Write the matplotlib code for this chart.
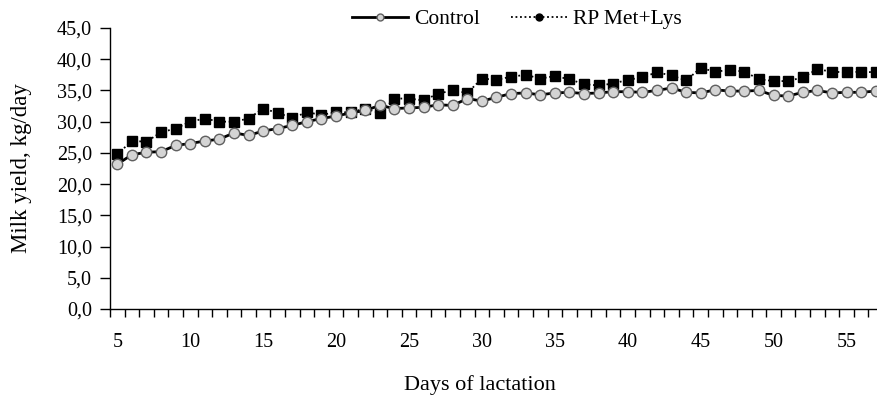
import matplotlib
matplotlib.use("Agg")
import matplotlib.pyplot as plt
from matplotlib.lines import Line2D
from matplotlib.ticker import FuncFormatter, MultipleLocator, FixedLocator

days = list(range(5, 58))
control = [23.2, 24.7, 25.1, 25.2, 26.2, 26.5, 26.9, 27.2, 28.2, 27.8,
           28.5, 28.9, 29.4, 30.0, 30.5, 30.9, 31.4, 31.8, 32.6, 32.1,
           32.2, 32.3, 32.7, 32.6, 33.7, 33.3, 33.9, 34.5, 34.6, 34.3,
           34.6, 34.7, 34.5, 34.6, 34.8, 34.8, 34.7, 35.0, 35.4, 34.7,
           34.6, 35.1, 34.9, 34.9, 35.0, 34.2, 34.1, 34.7, 35.0, 34.6,
           34.7, 34.7, 34.9]
rp_met_lys = [24.8, 26.9, 26.8, 28.3, 28.9, 30.0, 30.5, 30.0, 30.0, 30.5,
              32.1, 31.4, 30.6, 31.5, 31.1, 31.5, 31.5, 32.1, 31.4, 33.7,
              33.7, 33.4, 34.5, 35.0, 34.6, 36.9, 36.7, 37.2, 37.5, 36.9,
              37.3, 36.8, 36.0, 35.8, 36.1, 36.7, 37.1, 37.9, 37.4, 36.6,
              38.6, 38.0, 38.3, 38.0, 36.8, 36.5, 36.5, 37.1, 38.4, 38.0,
              37.9, 38.0, 37.9]
x_ticklabels = [5, 10, 15, 20, 25, 30, 35, 40, 45, 50, 55]
series_names = ["Control", "RP Met+Lys"]

plt.rcParams['font.family'] = ['Liberation Serif', 'DejaVu Serif']

fig = plt.figure(figsize=(8.78, 4.05), dpi=100)
ax = fig.add_axes([110/878, 1-309/405, (883-110)/878, (309-28)/405])

ax.plot(days, rp_met_lys, linestyle=(0, (1, 1.5)), color='black', linewidth=1.3,
        marker='s', markersize=7.5, markerfacecolor='black', markeredgecolor='black',
        zorder=2)
ax.plot(days, control, linestyle='-', color='black', linewidth=2.0,
        marker='o', markersize=7.5, markerfacecolor='#d4d4d4', markeredgecolor='#606060',
        markeredgewidth=1.0, zorder=3)

ax.set_xlim(4.5, 57.5)
ax.set_ylim(0, 45)
ax.yaxis.set_major_locator(MultipleLocator(5))
ax.yaxis.set_major_formatter(FuncFormatter(lambda v, p: f"{v:.1f}".replace('.', ',')))
ax.xaxis.set_major_locator(FixedLocator(x_ticklabels))
ax.xaxis.set_major_formatter(FuncFormatter(lambda v, p: f"{int(v)}"))
ax.xaxis.set_minor_locator(FixedLocator([d + 0.5 for d in range(4, 58)]))
ax.tick_params(axis='x', which='major', length=0, pad=17, labelsize=14.5)
ax.tick_params(axis='x', which='minor', length=6, width=1, direction='out')
ax.tick_params(axis='y', which='major', length=7, width=1, direction='out', labelsize=14.5, pad=6)

for s in ['top', 'right']:
    ax.spines[s].set_visible(False)
ax.spines['left'].set_linewidth(1.0)
ax.spines['bottom'].set_linewidth(1.0)

fig.text(22/878, 1-168/405, "Milk yield, kg/day", ha='center', va='center',
         rotation=90, fontsize=16.5)
fig.text(480/878, 1-385/405, "Days of lactation", ha='center', va='center', fontsize=16)

handles = [
    Line2D([], [], color='black', linewidth=2.0, marker='o', markersize=5,
           markerfacecolor='#d4d4d4', markeredgecolor='#606060'),
    Line2D([], [], color='black', linewidth=1.3, linestyle=(0, (1, 1.5)), marker='o',
           markersize=5, markerfacecolor='black', markeredgecolor='black'),
]
fig.legend(handles, series_names, loc='center', bbox_to_anchor=(517/878, 1-19/405),
           ncol=2, frameon=False, fontsize=15.5, handlelength=2.6, handletextpad=0.3,
           columnspacing=1.4)

fig.savefig("out.png", dpi=100)
